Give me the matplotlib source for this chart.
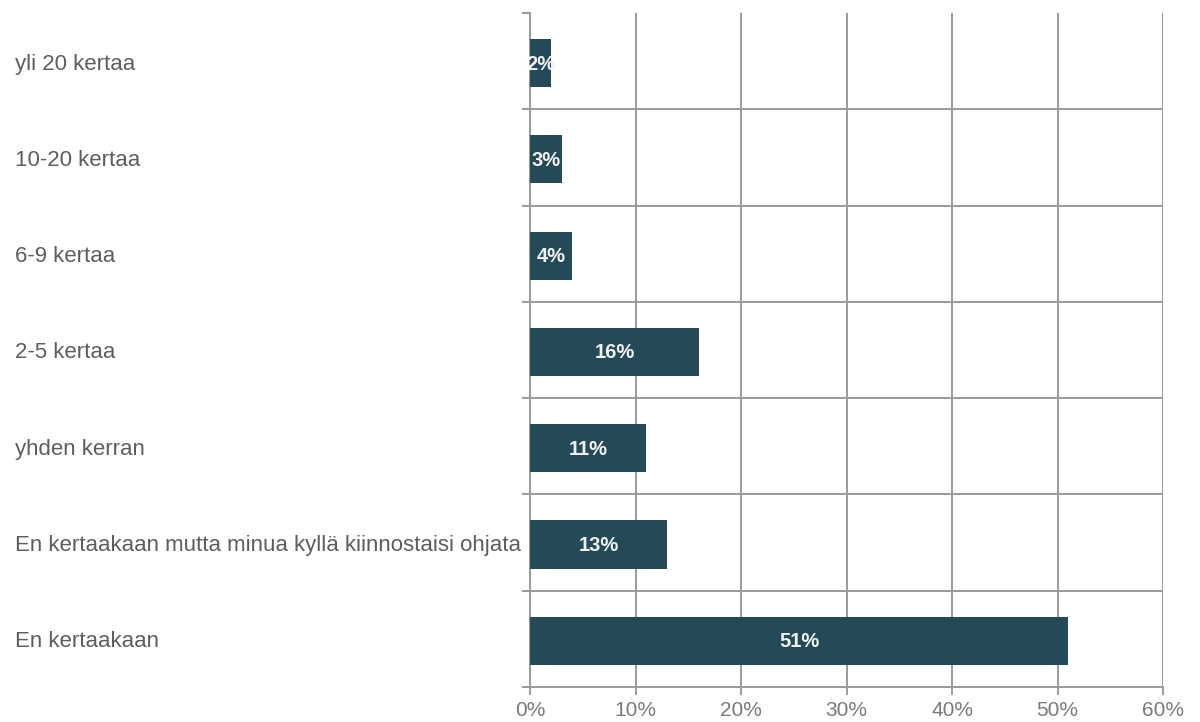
import matplotlib

matplotlib.use("Agg")
import matplotlib.pyplot as plt
import matplotlib.transforms as mtransforms
import numpy as np

categories = [
    "yli 20 kertaa",
    "10-20 kertaa",
    "6-9 kertaa",
    "2-5 kertaa",
    "yhden kerran",
    "En kertaakaan mutta minua kyllä kiinnostaisi ohjata",
    "En kertaakaan",
]
values = [2, 3, 4, 16, 11, 13, 51]
x_ticks = [0, 10, 20, 30, 40, 50, 60]

plt.rcParams["font.family"] = ["Liberation Sans", "DejaVu Sans"]

bar_color = "#244a57"
grid_color = "#9a9a9a"
text_color = "#5e5e5e"
tick_color = "#7a7a7a"

fig = plt.figure(figsize=(12, 7.22), dpi=100)
ax = fig.add_axes([530 / 1200, 1 - 687 / 722, 633 / 1200, 674 / 722])

y = np.arange(len(categories))
ax.barh(y + 0.02, values, height=0.5, color=bar_color, zorder=3)

for yi, v in zip(y, values):
    ax.text(v / 2, yi + 0.03, f"{v}%", ha="center", va="center", color="#f2f2f2",
            fontsize=14.5, fontweight="bold", zorder=4)

ax.set_xlim(0, 60)
ax.set_ylim(len(categories) - 0.5, -0.5)

# category boundaries for horizontal grid lines and left ticks
bounds = np.arange(-0.5, len(categories) + 0.5, 1.0)
ax.set_yticks(bounds)
ax.set_yticklabels([])
ax.tick_params(axis="y", length=6, width=1.4, color=grid_color)
for b in bounds[1:-1]:
    ax.axhline(b, color=grid_color, lw=1.4, zorder=1)

ax.set_xticks(x_ticks)
ax.set_xticklabels([f"{t}%" for t in x_ticks], fontsize=15, color=tick_color)
ax.tick_params(axis="x", length=6, width=1.4, color=grid_color, pad=4)
for t in x_ticks[1:]:
    ax.axvline(t, color=grid_color, lw=1.4, zorder=1)

for side in ["top", "right"]:
    ax.spines[side].set_visible(False)
for side in ["left", "bottom"]:
    ax.spines[side].set_color(grid_color)
    ax.spines[side].set_linewidth(1.4)

trans = mtransforms.blended_transform_factory(fig.transFigure, ax.transData)
for yi, cat in zip(y, categories):
    ax.text(15 / 1200, yi + 0.03, cat, transform=trans, ha="left", va="center",
            fontsize=16, color=text_color)

fig.savefig("out.png", dpi=100)
